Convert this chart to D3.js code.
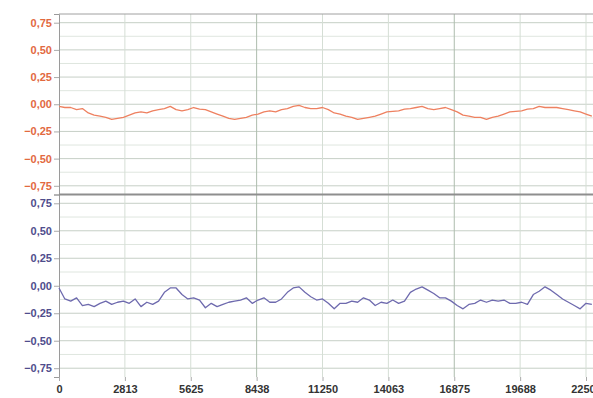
<!DOCTYPE html>
<html>
<head>
<meta charset="utf-8">
<script src="https://cdn.jsdelivr.net/npm/d3@7"></script>
<style>
  body { margin: 0; background: #fff; }
  svg { display: block; }
</style>
</head>
<body>
<div id="chartCt"></div>
<script>
// x ticks (sample index), labels as printed
var xTicks = [0, 2812.5, 5625, 8437.5, 11250, 14062.5, 16875, 19687.5, 22500];
var xTickLabels = ["0", "2813", "5625", "8438", "11250", "14063", "16875", "19688", "22500"];
var yTicks = [-0.75, -0.5, -0.25, 0, 0.25, 0.5, 0.75];

// one reading every 250 samples
var step = 250;

var topValues = [
  -0.02, -0.03, -0.03, -0.05, -0.04, -0.08, -0.10, -0.11, -0.12, -0.14,
  -0.13, -0.12, -0.10, -0.08, -0.07, -0.08, -0.06, -0.05, -0.04, -0.02,
  -0.05, -0.06, -0.05, -0.03, -0.045, -0.05, -0.07, -0.09, -0.11, -0.13,
  -0.14, -0.13, -0.12, -0.10, -0.09, -0.07, -0.06, -0.07, -0.05, -0.04,
  -0.02, -0.01, -0.03, -0.04, -0.04, -0.03, -0.05, -0.08, -0.09, -0.11,
  -0.12, -0.14, -0.13, -0.12, -0.11, -0.09, -0.07, -0.065, -0.06, -0.045,
  -0.04, -0.03, -0.02, -0.04, -0.05, -0.04, -0.03, -0.05, -0.07, -0.10,
  -0.11, -0.12, -0.12, -0.14, -0.12, -0.11, -0.09, -0.07, -0.065, -0.06,
  -0.045, -0.04, -0.02, -0.03, -0.03, -0.03, -0.04, -0.05, -0.06, -0.07,
  -0.09, -0.11
];

var bottomValues = [
  -0.02, -0.12, -0.14, -0.11, -0.18, -0.17, -0.19, -0.16, -0.14, -0.17,
  -0.15, -0.14, -0.16, -0.12, -0.19, -0.15, -0.17, -0.14, -0.06, -0.02,
  -0.02, -0.08, -0.12, -0.11, -0.13, -0.20, -0.16, -0.19, -0.17, -0.15,
  -0.14, -0.13, -0.11, -0.16, -0.13, -0.11, -0.15, -0.15, -0.12, -0.06,
  -0.02, -0.01, -0.06, -0.10, -0.13, -0.12, -0.16, -0.21, -0.16, -0.16,
  -0.14, -0.15, -0.11, -0.13, -0.18, -0.15, -0.16, -0.13, -0.16, -0.14,
  -0.06, -0.03, -0.01, -0.04, -0.07, -0.11, -0.11, -0.14, -0.18, -0.21,
  -0.17, -0.16, -0.13, -0.15, -0.13, -0.14, -0.13, -0.16, -0.16, -0.15,
  -0.17, -0.08, -0.05, -0.01, -0.04, -0.08, -0.12, -0.15, -0.18, -0.21,
  -0.16, -0.17
];

var width = 593, height = 398;
var plotLeft = 59, plotRight = 593, plotTop = 14, plotMid = 194.5, plotBottom = 377;

var svg = d3.select("#chartCt").append("svg")
    .attr("width", width)
    .attr("height", height);

var x = d3.scaleLinear().domain([0, 22500]).range([plotLeft, 586]);

var fmt = function (d) { return d3.format(".2f")(d).replace(".", ","); };

var panels = [
  { values: topValues, y0: plotTop, y1: plotMid, color: "#ee8160", labelColor: "#e2693f" },
  { values: bottomValues, y0: plotMid, y1: plotBottom, color: "#6e6aae", labelColor: "#4f4d8c" }
];

panels.forEach(function (p) {
    var y = d3.scaleLinear().domain([-0.83, 0.83]).range([p.y1, p.y0]);

    // horizontal grid, every 0.125
    svg.append("g").selectAll("line")
        .data(d3.range(-0.875, 0.9, 0.125).filter(function (v) { return y(v) > p.y0 + 1 && y(v) < p.y1 - 1; }))
        .enter().append("line")
        .attr("x1", plotLeft).attr("x2", plotRight)
        .attr("y1", function (d) { return y(d); })
        .attr("y2", function (d) { return y(d); })
        .attr("stroke", function (d) { return Math.abs(d * 4 - Math.round(d * 4)) < 1e-6 ? "#c6cfc6" : "#dfe6df"; })
        .attr("stroke-width", 1);

    // vertical grid
    svg.append("g").selectAll("line")
        .data(xTicks.slice(1))
        .enter().append("line")
        .attr("x1", function (d) { return x(d); })
        .attr("x2", function (d) { return x(d); })
        .attr("y1", p.y0).attr("y2", p.y1)
        .attr("stroke", function (d, i) { return (i + 1) % 3 === 0 ? "#adbcad" : "#d5ded5"; })
        .attr("stroke-width", 1);

    // y axis
    var axis = svg.append("g")
        .attr("transform", "translate(" + plotLeft + ",0)")
        .call(d3.axisLeft(y).tickValues(yTicks).tickFormat(fmt).tickSize(5).tickPadding(2));
    axis.select(".domain").attr("stroke", "#9a9a9a");
    axis.selectAll(".tick line").attr("stroke", "#aaaaaa");
    axis.selectAll("text")
        .attr("fill", p.labelColor)
        .style("font-family", "'Liberation Sans', Arial, sans-serif")
        .style("font-size", "11px")
        .style("font-weight", "bold");

    var line = d3.line()
        .x(function (d, i) { return x(i * step); })
        .y(function (d) { return y(d); });

    svg.append("path")
        .datum(p.values)
        .attr("fill", "none")
        .attr("stroke", p.color)
        .attr("stroke-width", 1.3)
        .attr("stroke-linejoin", "round")
        .attr("d", line);
});

// panel frame lines
svg.append("line").attr("x1", plotLeft).attr("x2", plotRight).attr("y1", plotTop).attr("y2", plotTop)
    .attr("stroke", "#a0a0a0");
svg.append("line").attr("x1", plotLeft).attr("x2", plotRight).attr("y1", plotMid).attr("y2", plotMid)
    .attr("stroke", "#8e8e8e").attr("stroke-width", 2);

// x axis
var xAxis = svg.append("g")
    .attr("transform", "translate(0," + plotBottom + ")")
    .call(d3.axisBottom(x).tickValues(xTicks)
        .tickFormat(function (d, i) { return xTickLabels[i]; })
        .tickSize(4).tickPadding(4));
xAxis.select(".domain").remove();
xAxis.selectAll(".tick line").attr("stroke", "#aaaaaa");
xAxis.selectAll("text")
    .attr("fill", "#333")
    .style("font-family", "'Liberation Sans', Arial, sans-serif")
    .style("font-size", "11px")
    .style("font-weight", "bold");
</script>
</body>
</html>
